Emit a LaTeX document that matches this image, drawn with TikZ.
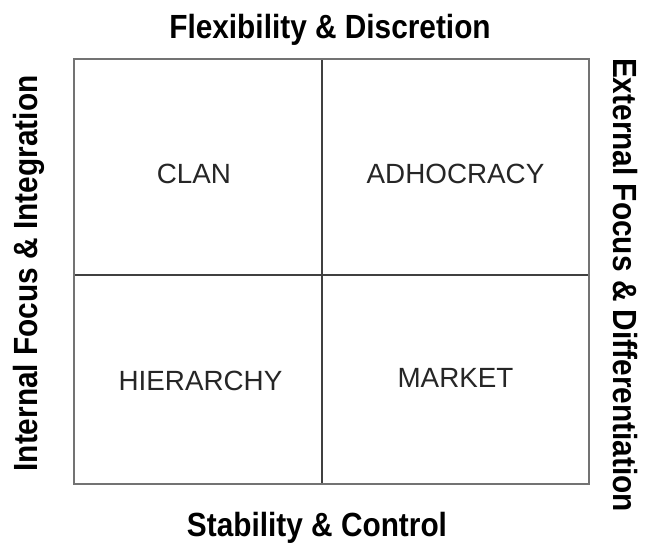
\documentclass[tikz,border=0pt]{standalone}
\usepackage{fontspec}
\setmainfont{Liberation Sans}
\newfontfamily\axisfont[FakeStretch=0.89]{Liberation Sans Bold}
\begin{document}
\begin{tikzpicture}[x=1pt,y=-1pt,
  axislabel/.style={font=\axisfont\fontsize{33.5}{40}\selectfont, inner sep=0pt, text=black},
  celllabel/.style={font=\fontsize{27.8}{32}\selectfont, inner sep=0pt, text=black!85, anchor=base},
  outerline/.style={draw=black!55, line width=2pt},
  innerline/.style={draw=black!75, line width=2pt}]
\useasboundingbox (0,0) rectangle (652,544);
\fill[white] (0,0) rectangle (652,544);
% grid corners
\coordinate (tl) at (74,58.7);
\coordinate (br) at (589,484);
\coordinate (topmid) at (322,58.7);
\coordinate (botmid) at (322,484);
\coordinate (leftmid) at (74,274.5);
\coordinate (rightmid) at (589,274.5);
\draw[innerline] (topmid) -- (botmid);
\draw[innerline] (leftmid) -- (rightmid);
\draw[outerline] (tl) rectangle (br);
% axis labels
\node[axislabel, anchor=base] (top) at (330,38) {Flexibility \& Discretion};
\node[axislabel, anchor=base] (bottom) at (317,536) {Stability \& Control};
\node[axislabel, anchor=base, rotate=90] (left) at (37,273.5) {Internal Focus \& Integration};
\node[axislabel, anchor=base, rotate=-90] (right) at (613,285) {External Focus \& Differentiation};
% cell labels
\node[celllabel] (clan) at (194,183) {CLAN};
\node[celllabel] (adhocracy) at (455.5,183) {ADHOCRACY};
\node[celllabel] (hierarchy) at (200.5,390) {HIERARCHY};
\node[celllabel] (market) at (455.5,387) {MARKET};
\end{tikzpicture}
\end{document}
